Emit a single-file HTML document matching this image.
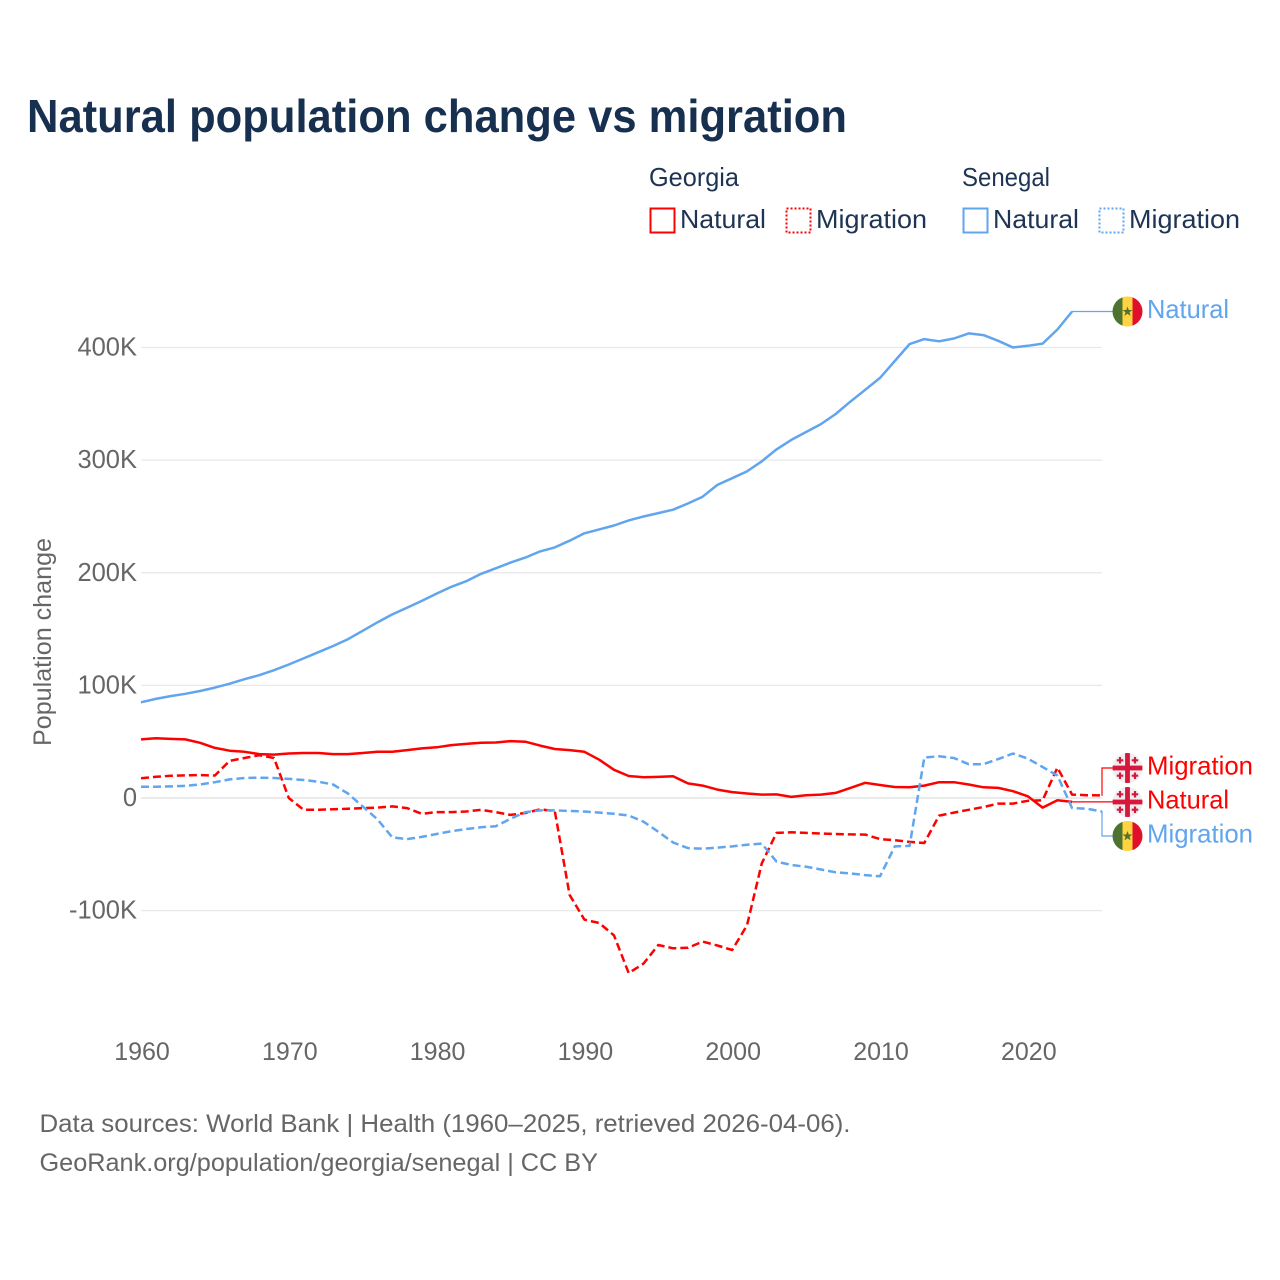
<!DOCTYPE html>
<html lang="en">
<head>
<meta charset="utf-8">
<title>Natural population change vs migration</title>
<style>
html,body{margin:0;padding:0;background:#fff}
svg{display:block}
text{font-family:"Liberation Sans",sans-serif}
</style>
</head>
<body>
<svg id="chart" xmlns="http://www.w3.org/2000/svg" width="1280" height="1280" viewBox="0 0 1280 1280">
  <rect x="0" y="0" width="1280" height="1280" fill="#ffffff"/>
  <text x="27" y="132" font-size="46" font-weight="700" fill="#18304f" textLength="820" lengthAdjust="spacingAndGlyphs">Natural population change vs migration</text>

  <g font-size="26" fill="#1d3454">
    <text x="649" y="186" textLength="90" lengthAdjust="spacingAndGlyphs">Georgia</text>
    <text x="962" y="186" textLength="88" lengthAdjust="spacingAndGlyphs">Senegal</text>
    <rect x="650.5" y="208.5" width="24" height="24" fill="none" stroke="#ff0000" stroke-width="2"/>
    <text x="680" y="228" textLength="86" lengthAdjust="spacingAndGlyphs">Natural</text>
    <rect x="786.5" y="208.5" width="24" height="24" fill="none" stroke="#ff0000" stroke-width="2" stroke-dasharray="2 2"/>
    <text x="816" y="228" textLength="111" lengthAdjust="spacingAndGlyphs">Migration</text>
    <rect x="963.5" y="208.5" width="24" height="24" fill="none" stroke="#60a5ed" stroke-width="2"/>
    <text x="993" y="228" textLength="86" lengthAdjust="spacingAndGlyphs">Natural</text>
    <rect x="1099.5" y="208.5" width="24" height="24" fill="none" stroke="#60a5ed" stroke-width="2" stroke-dasharray="2 2"/>
    <text x="1129" y="228" textLength="111" lengthAdjust="spacingAndGlyphs">Migration</text>
  </g>

  <text transform="translate(51,746) rotate(-90)" font-size="25" fill="#666666" textLength="208" lengthAdjust="spacingAndGlyphs">Population change</text>

  <g id="grid"></g>
  <g id="yticks"></g>
  <g id="xticks"></g>
  <g id="leaders"></g>
  <g id="series"></g>

  <defs>
    <clipPath id="flagclip"><circle cx="0" cy="0" r="15"/></clipPath>
    <g id="flag-sn">
      <g clip-path="url(#flagclip)">
        <rect x="-15" y="-15" width="10" height="30" fill="#4e7330"/>
        <rect x="-5" y="-15" width="10" height="30" fill="#ffd440"/>
        <rect x="5" y="-15" width="10" height="30" fill="#e0102c"/>
        <polygon points="0,-5 1.3,-1.5 5,-1.5 2,0.8 3.1,4.4 0,2.2 -3.1,4.4 -2,0.8 -5,-1.5 -1.3,-1.5" fill="#4e7330"/>
      </g>
    </g>
    <g id="flag-ge">
      <g clip-path="url(#flagclip)">
        <rect x="-15" y="-15" width="30" height="30" fill="#eeeeee"/>
        <rect x="-15" y="-2.4" width="30" height="4.8" fill="#d8173c"/>
        <rect x="-2.4" y="-15" width="4.8" height="30" fill="#d8173c"/>
        <path d="M-7.5-11v6.5M-10.7-7.7h6.5M7.5-11v6.5M4.2-7.7h6.5M-7.5 4.5v6.5M-10.7 7.7h6.5M7.5 4.5v6.5M4.2 7.7h6.5" stroke="#d8173c" stroke-width="2.2" fill="none"/>
      </g>
    </g>
  </defs>
  <g id="endlabels"></g>

  <g font-size="25" fill="#666666">
    <text x="39.5" y="1132" textLength="811" lengthAdjust="spacingAndGlyphs">Data sources: World Bank | Health (1960–2025, retrieved 2026-04-06).</text>
    <text x="39.5" y="1171" textLength="558.5" lengthAdjust="spacingAndGlyphs">GeoRank.org/population/georgia/senegal | CC BY</text>
  </g>
</svg>

<script>
const years = [1960,1961,1962,1963,1964,1965,1966,1967,1968,1969,1970,1971,1972,1973,1974,1975,1976,1977,1978,1979,1980,1981,1982,1983,1984,1985,1986,1987,1988,1989,1990,1991,1992,1993,1994,1995,1996,1997,1998,1999,2000,2001,2002,2003,2004,2005,2006,2007,2008,2009,2010,2011,2012,2013,2014,2015,2016,2017,2018,2019,2020,2021,2022,2023,2024,2025];
const xTickYears = [1960,1970,1980,1990,2000,2010,2020];
const yTickValues = [-100,0,100,200,300,400];
const yTickLabels = ["-100K","0","100K","200K","300K","400K"];

const senegalNatural = [85,88,90.5,92.5,95,98,101.5,105.5,109,113.5,118.5,124,129.5,135,141,148.5,156,163,169,175,181.5,187.5,192.5,199,204,209,213.5,219,222.5,228.5,235,238.5,242,246.5,250,253,256,261.5,267.5,278,284,290,299,309.5,318,325,332,341,352,362.5,373,388,403,407.5,405.5,408,412.5,411,406,400,401.5,403.5,416,432];
const georgiaNatural = [52,53,52.5,52,49,44.5,42,41,39,38.5,39.5,40,40,39,39,40,41,41,42.5,44,45,47,48,49,49.3,50.5,50,46.5,43.5,42.5,41,34,25,19.5,18.5,18.7,19.3,13,11,7.5,5.2,4,3,3.2,1,2.5,3,4.5,9,13.5,11.5,9.8,9.5,11,14,14,12,9.5,9,6,1.5,-8.5,-2,-3.5];
const georgiaMigration = [17.5,18.8,19.7,20.2,20.3,20,33,35.5,38,35.5,0,-10.5,-10.5,-10,-9.5,-9,-8.5,-7.5,-9,-14,-12.5,-12.5,-12,-10.5,-12.5,-15,-13.3,-10,-11.5,-86,-108,-111,-122,-155.5,-147,-130.5,-133.5,-133,-127.5,-131,-135,-113,-58,-31,-30.5,-31,-31.5,-32,-32.3,-32.5,-36.5,-37.5,-39,-40,-15.6,-13,-10.5,-8,-5,-5,-2.5,-2,27,3,2.5,2.3];
const senegalMigration = [10,10,10.3,10.7,12,14,16.5,17.8,18,17.8,17,16,14.5,12,4,-7.5,-19,-35,-36.5,-34.5,-32,-29.5,-27.5,-26,-25,-18.5,-12.5,-11,-11,-11.5,-12,-13,-14,-15.5,-21,-30,-39.5,-44.5,-45,-44,-43,-41.5,-40.5,-56.5,-59.5,-61,-63.5,-66,-67,-68.5,-69.5,-43,-42.5,36,37,35.5,30,30,34.5,39.5,35,27.5,20,-9,-9.5,-12];

const RED = "#ff0000";
const BLUE = "#60a5ed";
const NS = "http://www.w3.org/2000/svg";

function xScale(year){ return 141 + (year - 1960) * 14.78; }
function yScale(v){ return 798 - v * 1.1262; }
function make(tag, attrs, parent){
  const el = document.createElementNS(NS, tag);
  for (const k in attrs) el.setAttribute(k, attrs[k]);
  parent.appendChild(el);
  return el;
}

const gridG = document.getElementById("grid");
const yG = document.getElementById("yticks");
const xG = document.getElementById("xticks");
const seriesG = document.getElementById("series");
const leadG = document.getElementById("leaders");
const endG = document.getElementById("endlabels");

yTickValues.forEach(function(v, i){
  const line = make("line", {x1:141, x2:1102, y1:yScale(v), y2:yScale(v), stroke:"#e8e8e8", "stroke-width":1.2}, gridG);
  
  
  if (v === 0) line.setAttribute("stroke", "#dedede");
  const t = make("text", {x:137, y:yScale(v)+8, "text-anchor":"end", "font-size":25.5, fill:"#666666"}, yG);
  
  
  t.textContent = yTickLabels[i];
});

xTickYears.forEach(function(y){
  const t = make("text", {x:xScale(y)+1, y:1060, "text-anchor":"middle", "font-size":25, fill:"#666666"}, xG);
  
  
  t.textContent = y;
});

function linePoints(values){
  return values.map(function(v, i){ return xScale(years[i]).toFixed(1) + "," + yScale(v).toFixed(1); }).join(" ");
}
function drawSeries(values, color, dashed, name){
  const p = make("polyline", {points:linePoints(values), fill:"none", stroke:color, "stroke-width":2.5, "stroke-linejoin":"round"}, seriesG);
  
  
  if (dashed) p.setAttribute("stroke-dasharray", "8 4");
}
drawSeries(georgiaNatural, RED, false, 'line-georgia-natural');
drawSeries(senegalNatural, BLUE, false, 'line-senegal-natural');
drawSeries(georgiaMigration, RED, true, 'line-georgia-migration');
drawSeries(senegalMigration, BLUE, true, 'line-senegal-migration');

function endLabel(values, color, flagId, text, labelY, width, name){
  const i = values.length - 1;
  const sx = xScale(years[i]);
  const sy = yScale(values[i]);
  const elbow = 1102;
  const d = "M" + sx.toFixed(1) + " " + sy.toFixed(1) + (Math.abs(sy - labelY) > 1 ? " H" + Math.max(sx, elbow) + " V" + labelY : "") + " H1113";
  const path = make("path", {d:d, fill:"none", stroke:color, "stroke-width":1.2}, leadG);
  
  
  const flag = make("use", {href:flagId, transform:"translate(1127.5," + labelY + ")"}, endG);
  
  
  const t = make("text", {x:1147, y:labelY+6.5, "font-size":26, fill:color, textLength:width, lengthAdjust:"spacingAndGlyphs"}, endG);
  
  
  t.textContent = text;
}
endLabel(senegalNatural, BLUE, "#flag-sn", "Natural", 311.5, 82, 'senegal-natural');
endLabel(georgiaMigration, RED, "#flag-ge", "Migration", 768, 106, 'georgia-migration');
endLabel(georgiaNatural, RED, "#flag-ge", "Natural", 802, 82, 'georgia-natural');
endLabel(senegalMigration, BLUE, "#flag-sn", "Migration", 836, 106, 'senegal-migration');
</script>
</body>
</html>
